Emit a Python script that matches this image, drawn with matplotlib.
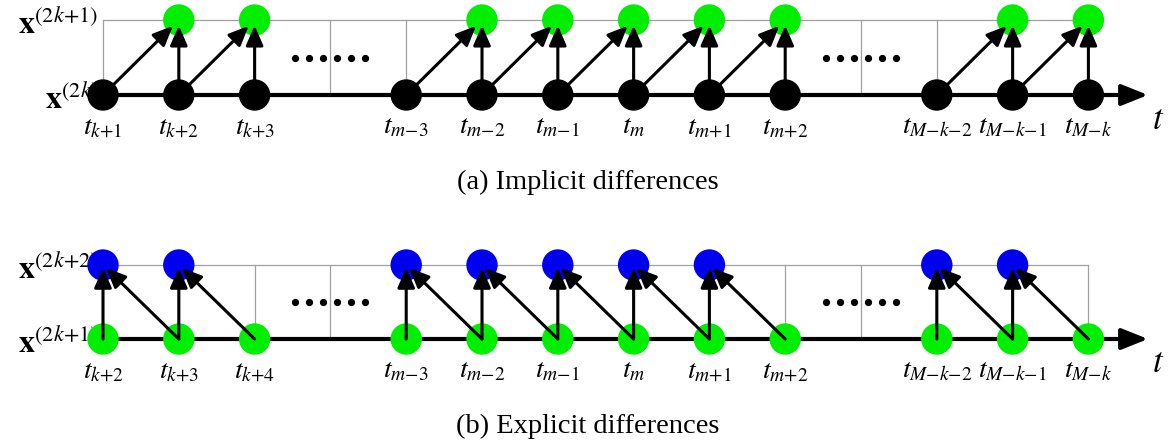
import matplotlib
matplotlib.use('Agg')
import matplotlib.pyplot as plt
from matplotlib.patches import Circle, FancyArrowPatch

plt.rcParams['mathtext.fontset'] = 'stix'
plt.rcParams['font.family'] = ['Liberation Serif', 'DejaVu Serif']

# columns of the time grid (index 3 and 10 are the "......" gaps)
n_cols = 14
gap_cols = [3, 10]

# panel (a): implicit differences
a_bottom_cols = [0, 1, 2, 4, 5, 6, 7, 8, 9, 11, 12, 13]
a_top_cols = [1, 2, 5, 6, 7, 8, 9, 12, 13]
a_labels = [r'$t_{k{+}1}$', r'$t_{k{+}2}$', r'$t_{k{+}3}$', r'$t_{m{-}3}$', r'$t_{m{-}2}$',
            r'$t_{m{-}1}$', r'$t_{m}$', r'$t_{m{+}1}$', r'$t_{m{+}2}$',
            r'$t_{M{-}k{-}2}$', r'$t_{M{-}k{-}1}$', r'$t_{M{-}k}$']
a_rows = [r'$\mathbf{x}^{(2k{+}1)}$', r'$\mathbf{x}^{(2k)}$']
a_caption = '(a) Implicit differences'

# panel (b): explicit differences
b_bottom_cols = [0, 1, 2, 4, 5, 6, 7, 8, 9, 11, 12, 13]
b_top_cols = [0, 1, 4, 5, 6, 7, 8, 11, 12]
b_labels = [r'$t_{k{+}2}$', r'$t_{k{+}3}$', r'$t_{k{+}4}$', r'$t_{m{-}3}$', r'$t_{m{-}2}$',
            r'$t_{m{-}1}$', r'$t_{m}$', r'$t_{m{+}1}$', r'$t_{m{+}2}$',
            r'$t_{M{-}k{-}2}$', r'$t_{M{-}k{-}1}$', r'$t_{M{-}k}$']
b_rows = [r'$\mathbf{x}^{(2k{+}2)}$', r'$\mathbf{x}^{(2k{+}1)}$']
b_caption = '(b) Explicit differences'

GREEN = '#00ee00'
BLUE = '#0000f0'
GRAY = '#a0a0a0'

X0, DX = 103, 75.8
R = 15


def cx(i):
    return X0 + i * DX


def arrow(ax, p0, p1, shrink):
    ax.add_patch(FancyArrowPatch(p0, p1, arrowstyle='-|>,head_length=0.8,head_width=0.35',
                                 mutation_scale=15, lw=2.2, color='black',
                                 shrinkA=0, shrinkB=shrink, zorder=5))


def draw_panel(ax, y_top, y_bot, bottom_cols, top_cols, bot_color, top_color,
               labels, rows, caption, implicit):
    # thin grid
    ax.plot([cx(0), cx(n_cols - 1)], [y_top, y_top], color=GRAY, lw=0.9, zorder=1)
    for i in range(n_cols):
        ax.plot([cx(i), cx(i)], [y_top, y_bot], color=GRAY, lw=0.9, zorder=1)
    # time axis
    ax.add_patch(FancyArrowPatch((cx(0), y_bot), (1148, y_bot),
                                 arrowstyle='-|>,head_length=1.0,head_width=0.4',
                                 mutation_scale=16, lw=3, color='black',
                                 shrinkA=0, shrinkB=0, zorder=2))
    ax.text(1158, y_bot + 25, '$t$', fontsize=25, ha='center', va='center')
    # gap dots
    for g in gap_cols:
        xs = [cx(g) - 35 + 14 * j for j in range(6)]
        ax.plot(xs, [(y_top + y_bot) / 2] * 6, 'o', ms=4.2, color='black', zorder=2)
    # nodes
    for i in bottom_cols:
        ax.add_patch(Circle((cx(i), y_bot), R, color=bot_color, zorder=4 if implicit else 3))
    for i in top_cols:
        ax.add_patch(Circle((cx(i), y_top), R, color=top_color, zorder=3))
    # arrows
    for i in top_cols:
        if implicit:
            if i in bottom_cols:
                arrow(ax, (cx(i), y_bot), (cx(i), y_top), 4)
            if i - 1 in bottom_cols:
                arrow(ax, (cx(i - 1), y_bot), (cx(i), y_top), 6)
        else:
            if i in bottom_cols:
                arrow(ax, (cx(i), y_bot), (cx(i), y_top), 2)
            if i + 1 in bottom_cols:
                arrow(ax, (cx(i + 1), y_bot), (cx(i), y_top), 3)
    # labels
    for i, lab in zip(bottom_cols, labels):
        ax.text(cx(i), y_bot + 19, lab, fontsize=20, ha='center', va='top', zorder=6)
    ax.text(98, y_top + 14, rows[0], fontsize=23, ha='right', va='baseline', zorder=2)
    ax.text(98, y_bot + 14, rows[1], fontsize=23, ha='right', va='baseline', zorder=2)
    ax.text(588, y_bot + 87, caption, fontsize=20.5, ha='center', va='center')


fig = plt.figure(figsize=(11.68, 4.43), dpi=100)
ax = fig.add_axes([0, 0, 1, 1])
ax.set_xlim(0, 1168)
ax.set_ylim(443, 0)
ax.axis('off')

draw_panel(ax, 20, 95, a_bottom_cols, a_top_cols, 'black', GREEN,
           a_labels, a_rows, a_caption, True)
draw_panel(ax, 265, 339, b_bottom_cols, b_top_cols, GREEN, BLUE,
           b_labels, b_rows, b_caption, False)

fig.savefig('out.png', dpi=100)
